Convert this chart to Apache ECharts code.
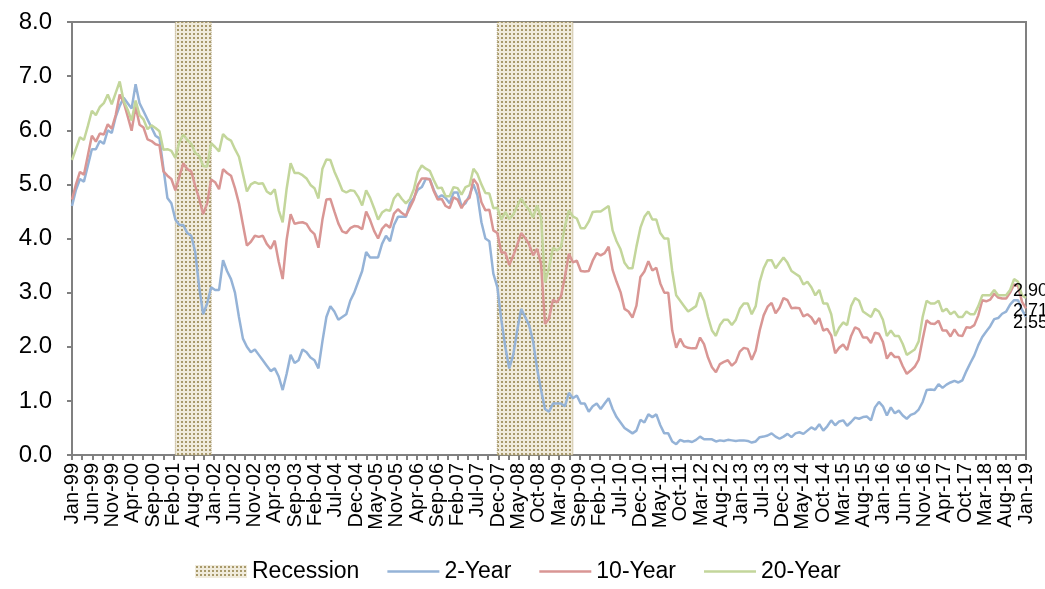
<!DOCTYPE html>
<html>
<head>
<meta charset="utf-8">
<script src="https://cdn.jsdelivr.net/npm/echarts@6/dist/echarts.min.js"></script>
<style>
html,body{margin:0;padding:0;background:#fff;}
#chart{width:1045px;height:589px;}
</style>
</head>
<body>
<div id="chart"></div>
<script>
// ---------- DATA ----------
var startYear = 1999; // monthly observations Jan-1999 .. Jan-2019
var tickLabels = ['Jan-99','Jun-99','Nov-99','Apr-00','Sep-00','Feb-01','Aug-01','Jan-02','Jun-02','Nov-02',
  'Apr-03','Sep-03','Feb-04','Jul-04','Dec-04','May-05','Nov-05','Apr-06','Sep-06','Feb-07','Jul-07',
  'Dec-07','May-08','Oct-08','Mar-09','Sep-09','Feb-10','Jul-10','Dec-10','May-11','Oct-11','Mar-12',
  'Aug-12','Jan-13','Jul-13','Dec-13','May-14','Oct-14','Mar-15','Aug-15','Jan-16','Jun-16','Nov-16',
  'Apr-17','Oct-17','Mar-18','Aug-18','Jan-19'];
var recessions = [['2001-03','2001-11'],['2007-12','2009-06']];

var y2 = [
 4.60,4.90,5.10,5.05,5.35,5.65,5.65,5.80,5.75,6.00,5.95,6.25,
 6.45,6.60,6.50,6.40,6.85,6.50,6.35,6.20,6.05,5.90,5.85,5.30,
 4.75,4.65,4.35,4.25,4.25,4.10,4.05,3.75,3.10,2.60,2.80,3.10,
 3.05,3.05,3.60,3.40,3.25,3.00,2.55,2.15,2.00,1.90,1.95,1.85,
 1.75,1.65,1.55,1.60,1.45,1.20,1.50,1.85,1.70,1.75,1.95,1.90,
 1.80,1.75,1.60,2.10,2.55,2.75,2.65,2.50,2.55,2.60,2.85,3.00,
 3.20,3.40,3.75,3.65,3.65,3.65,3.90,4.05,3.95,4.25,4.40,4.40,
 4.40,4.65,4.75,4.90,4.95,5.10,5.10,4.90,4.75,4.80,4.75,4.65,
 4.85,4.85,4.60,4.65,4.80,5.00,4.80,4.30,4.00,3.95,3.35,3.10,
 2.50,2.00,1.60,1.85,2.30,2.70,2.55,2.40,2.10,1.60,1.20,0.85,
 0.80,0.95,0.95,0.95,0.90,1.15,1.05,1.10,0.95,0.95,0.80,0.90,
 0.95,0.85,0.95,1.05,0.85,0.70,0.60,0.50,0.45,0.40,0.45,0.65,
 0.60,0.75,0.70,0.75,0.55,0.40,0.40,0.25,0.20,0.28,0.25,0.26,
 0.24,0.28,0.34,0.29,0.29,0.29,0.25,0.27,0.26,0.28,0.27,0.26,
 0.27,0.27,0.26,0.23,0.25,0.33,0.34,0.36,0.40,0.34,0.30,0.34,
 0.39,0.33,0.40,0.42,0.39,0.45,0.51,0.47,0.57,0.45,0.53,0.64,
 0.55,0.62,0.64,0.54,0.61,0.69,0.67,0.70,0.71,0.64,0.88,0.98,
 0.90,0.73,0.88,0.77,0.82,0.73,0.67,0.74,0.77,0.84,0.98,1.20,
 1.21,1.20,1.31,1.24,1.30,1.34,1.37,1.34,1.38,1.55,1.70,1.84,
 2.03,2.18,2.28,2.38,2.51,2.53,2.61,2.65,2.78,2.86,2.86,2.68,
 2.55];

var y10 = [
 4.72,5.00,5.23,5.18,5.54,5.90,5.79,5.94,5.92,6.11,6.03,6.28,
 6.66,6.52,6.26,5.99,6.44,6.10,6.05,5.83,5.80,5.74,5.72,5.24,
 5.16,5.10,4.89,5.14,5.39,5.28,5.24,4.97,4.73,4.45,4.65,5.09,
 5.04,4.91,5.28,5.21,5.16,4.93,4.65,4.26,3.87,3.94,4.05,4.03,
 4.05,3.90,3.81,3.96,3.57,3.25,3.98,4.45,4.27,4.29,4.30,4.27,
 4.15,4.08,3.83,4.35,4.72,4.73,4.50,4.28,4.13,4.10,4.19,4.23,
 4.22,4.17,4.50,4.34,4.14,4.00,4.18,4.26,4.20,4.46,4.54,4.47,
 4.42,4.57,4.72,4.99,5.11,5.11,5.09,4.88,4.72,4.73,4.60,4.56,
 4.76,4.72,4.56,4.69,4.75,5.10,5.00,4.67,4.52,4.53,4.15,4.10,
 3.74,3.74,3.51,3.68,3.88,4.10,4.01,3.89,3.69,3.81,3.53,2.42,
 2.52,2.87,2.82,2.93,3.29,3.72,3.56,3.59,3.40,3.39,3.40,3.59,
 3.73,3.69,3.73,3.85,3.42,3.20,3.01,2.70,2.65,2.54,2.76,3.29,
 3.39,3.58,3.41,3.46,3.17,3.00,3.00,2.30,1.98,2.15,2.01,1.98,
 1.97,1.97,2.17,2.05,1.80,1.62,1.53,1.68,1.72,1.75,1.65,1.72,
 1.91,1.98,1.96,1.76,1.93,2.30,2.58,2.74,2.81,2.62,2.72,2.90,
 2.86,2.71,2.72,2.71,2.56,2.60,2.54,2.42,2.53,2.30,2.33,2.21,
 1.88,1.98,2.04,1.94,2.20,2.36,2.32,2.17,2.17,2.07,2.26,2.24,
 2.09,1.78,1.89,1.81,1.81,1.64,1.50,1.56,1.63,1.76,2.14,2.49,
 2.43,2.42,2.48,2.30,2.30,2.19,2.32,2.21,2.20,2.36,2.35,2.40,
 2.58,2.86,2.84,2.87,2.98,2.91,2.89,2.89,3.00,3.15,3.12,2.83,
 2.71];

var y20 = [
 5.45,5.66,5.87,5.82,6.08,6.36,6.28,6.43,6.50,6.66,6.48,6.69,
 6.90,6.54,6.38,6.18,6.55,6.28,6.20,6.02,6.09,6.04,5.98,5.64,
 5.65,5.62,5.49,5.78,5.92,5.82,5.75,5.58,5.53,5.34,5.33,5.76,
 5.69,5.61,5.93,5.85,5.81,5.65,5.51,5.19,4.87,5.00,5.04,5.01,
 5.02,4.87,4.82,4.91,4.52,4.30,4.92,5.39,5.21,5.21,5.17,5.11,
 4.99,4.93,4.74,5.29,5.46,5.45,5.24,5.07,4.89,4.85,4.89,4.88,
 4.77,4.61,4.89,4.75,4.56,4.35,4.48,4.53,4.51,4.74,4.83,4.73,
 4.65,4.73,4.91,5.22,5.35,5.29,5.25,5.08,4.93,4.94,4.78,4.78,
 4.95,4.93,4.81,4.95,4.98,5.29,5.19,5.00,4.84,4.83,4.56,4.57,
 4.35,4.49,4.36,4.44,4.60,4.74,4.62,4.53,4.39,4.61,4.39,3.19,
 3.46,3.83,3.78,3.84,4.22,4.52,4.41,4.37,4.19,4.19,4.31,4.49,
 4.50,4.50,4.55,4.60,4.15,3.95,3.80,3.55,3.45,3.45,3.85,4.20,
 4.40,4.50,4.35,4.35,4.10,4.00,4.00,3.40,2.95,2.85,2.75,2.65,
 2.70,2.75,3.00,2.85,2.55,2.30,2.20,2.40,2.50,2.50,2.40,2.50,
 2.70,2.80,2.80,2.60,2.75,3.20,3.45,3.60,3.60,3.45,3.55,3.65,
 3.55,3.40,3.35,3.30,3.15,3.20,3.10,2.95,3.05,2.80,2.80,2.60,
 2.20,2.35,2.45,2.40,2.75,2.90,2.85,2.65,2.60,2.55,2.70,2.65,
 2.50,2.20,2.30,2.20,2.20,2.05,1.85,1.90,1.95,2.10,2.55,2.85,
 2.80,2.80,2.85,2.65,2.70,2.60,2.65,2.55,2.55,2.65,2.60,2.60,
 2.75,2.95,2.95,2.95,3.05,2.95,2.95,2.95,3.05,3.25,3.20,2.95,
 2.90];

// ---------- HELPERS ----------
var totalMonths = y2.length - 1;            // 240 months
var nIntervals = tickLabels.length - 1;     // 47 label steps
function toX(mi){ return mi * nIntervals / totalMonths; }
function monthIndex(s){ var p = s.split('-'); return (+p[0]-startYear)*12 + (+p[1]-1); }
function pairs(arr){ return arr.map(function(v,i){ return [toX(i), v]; }); }

var pc = document.createElement('canvas');
pc.width = 4; pc.height = 4;
var ctx = pc.getContext('2d');
ctx.fillStyle = '#f0ebdc'; ctx.fillRect(0,0,4,4);
ctx.fillStyle = '#a8996a'; ctx.fillRect(1,1,2,2);
var pattern = {image: pc, repeat: 'repeat'};

var recAreas = recessions.map(function(r){
  return [{xAxis: toX(monthIndex(r[0]))}, {xAxis: toX(monthIndex(r[1]) + 1)}];
});

var FONT = 'Liberation Sans';
var AX = '#808080';
var LINE_ICON = 'path://M0,0H52V2.5H0Z';

function lineSeries(name, data, color, dy){
  return {
    name: name, type: 'line', data: pairs(data), symbol: 'none', smooth: false,
    lineStyle: {color: color, width: 2.5}, itemStyle: {color: color},
    endLabel: {show: true, color: '#000', fontFamily: FONT, fontSize: 18, distance: 0,
      offset: [-13, dy], formatter: function(p){ return p.value[1].toFixed(2); }},
    z: 3
  };
}

var chart = echarts.init(document.getElementById('chart'), null, {renderer: 'canvas'});
chart.setOption({
  animation: false,
  backgroundColor: '#fff',
  textStyle: {fontFamily: FONT},
  grid: {left: 72, right: 19, top: 22, bottom: 134, show: true, borderColor: AX, borderWidth: 2, containLabel: false},
  xAxis: {
    type: 'value', min: 0, max: nIntervals, interval: 1,
    axisLine: {lineStyle: {color: AX, width: 2}},
    axisTick: {show: true, length: 5, lineStyle: {color: AX, width: 2}},
    minorTick: {show: true, splitNumber: 2, length: 5, lineStyle: {color: AX, width: 2}},
    splitLine: {show: false},
    axisLabel: {rotate: 90, fontSize: 20, color: '#000', fontFamily: FONT, margin: 8,
      formatter: function(v){ return tickLabels[Math.round(v)] || ''; }, showMinLabel: true, showMaxLabel: true}
  },
  yAxis: {
    type: 'value', min: 0, max: 8, interval: 1,
    axisLine: {show: true, lineStyle: {color: AX, width: 2}},
    axisTick: {show: true, length: 5, lineStyle: {color: AX, width: 2}},
    splitLine: {show: false},
    axisLabel: {fontSize: 24, color: '#000', fontFamily: FONT, margin: 20,
      formatter: function(v){ return v.toFixed(1); }}
  },
  legend: {
    left: 190, top: 555, itemWidth: 52, itemHeight: 13, itemGap: 28,
    textStyle: {fontSize: 23, color: '#000', fontFamily: FONT},
    data: [
      {name: 'Recession', icon: 'rect', itemStyle: {color: pattern}},
      {name: '2-Year', icon: LINE_ICON},
      {name: '10-Year', icon: LINE_ICON},
      {name: '20-Year', icon: LINE_ICON}
    ]
  },
  series: [
    {name: 'Recession', type: 'line', data: [], symbol: 'none', itemStyle: {color: pattern},
      markArea: {silent: true, itemStyle: {color: pattern, borderColor: '#a8996a', borderWidth: 1, borderType: 'dotted'}, data: recAreas}, z: 1},
    lineSeries('2-Year', y2, '#95b3d7', 6),
    lineSeries('10-Year', y10, '#d99694', 3),
    lineSeries('20-Year', y20, '#c3d69b', -7)
  ]
});
</script>
</body>
</html>
